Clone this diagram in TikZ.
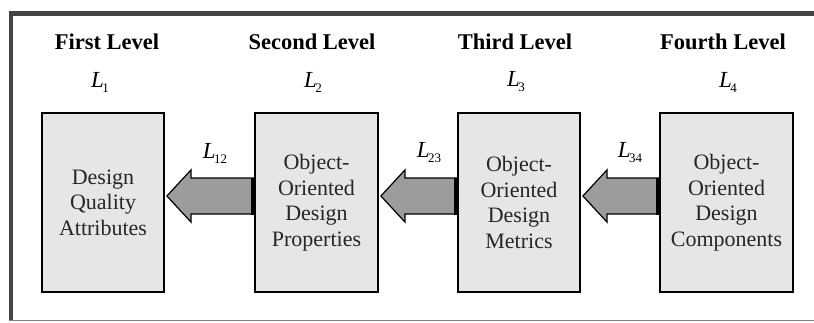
\documentclass[tikz,border=0pt]{standalone}
\usepackage{fontspec}
\setmainfont{Liberation Serif}
\usetikzlibrary{calc}
\definecolor{boxfill}{HTML}{E6E6E6}
\definecolor{arrfill}{HTML}{9C9C9C}
\definecolor{framecol}{HTML}{444444}
\newcommand\Lab[1]{{\itshape L}\kern-1.5pt\raisebox{-5pt}{\fontsize{13}{13}\selectfont #1}}
\tikzset{
  levelbox/.style={draw=black, line width=1.8pt, fill=boxfill, align=center,
    inner sep=0pt, minimum height=179pt, text=black!85,
    font=\fontsize{22}{25.5}\selectfont},
  leveltitle/.style={font=\fontsize{22.5}{24}\selectfont\bfseries, inner sep=0pt, anchor=center},
  levellabel/.style={font=\fontsize{23}{24}\selectfont, inner sep=0pt, anchor=center},
  fatarr/.style={draw=black, line width=1.2pt, fill=arrfill, line join=miter},
}
% #1 source (right box), #2 target (left box)
\newcommand\fatarrow[2]{%
  \coordinate (tip) at ($(#2.east)+(2,-6.5)$);
  \coordinate (tail) at ($(#1.west)+(0,-6.5)$);
  \draw[fatarr] (tip) -- ++(24,-26) -- ++(0,8) -- ($(tail)+(0,-18)$)
     -- ($(tail)+(0,18)$) -- ($(tip)+(24,18)$) -- ++(0,8) -- cycle;
  \draw[line width=4pt] ($(tail)+(-1,-18.5)$) -- ($(tail)+(-1,18.5)$);
}
\begin{document}
\begin{tikzpicture}[x=1pt,y=-1pt]
\useasboundingbox (0,0) rectangle (814,322);
% frame
\draw[framecol, line width=4.5pt] (11,320) -- (11,13.5) -- (830,13.5);
\draw[gray, line width=1.5pt] (9,320.5) -- (830,320.5);
% boxes
\node[levelbox, minimum width=122pt] (b1) at (103,202.5) {Design\\Quality\\Attributes};
\node[levelbox, minimum width=123pt] (b2) at (316.5,202.5) {Object-\\Oriented\\Design\\Properties};
\node[levelbox, minimum width=122pt] (b3) at (519,202.5) {Object-\\Oriented\\Design\\Metrics};
\node[levelbox, minimum width=133pt] (b4) at (726.5,202.5) {Object-\\Oriented\\Design\\Components};
% titles
\node[leveltitle] (t1) at (107,42) {First Level};
\node[leveltitle] (t2) at (312,42) {Second Level};
\node[leveltitle] (t3) at (515,42) {Third Level};
\node[leveltitle] (t4) at (723,42) {Fourth Level};
% level labels
\node[levellabel] (l1) at (100,82) {\Lab{1}};
\node[levellabel] (l2) at (313,82) {\Lab{2}};
\node[levellabel] (l3) at (516,82) {\Lab{3}};
\node[levellabel] (l4) at (728,82) {\Lab{4}};
% arrows
\fatarrow{b2}{b1}
\fatarrow{b3}{b2}
\fatarrow{b4}{b3}
% arrow labels
\node[levellabel] (l12) at (215,153) {\Lab{12}};
\node[levellabel] (l23) at (429,153) {\Lab{23}};
\node[levellabel] (l34) at (630,153) {\Lab{34}};
\end{tikzpicture}
\end{document}
